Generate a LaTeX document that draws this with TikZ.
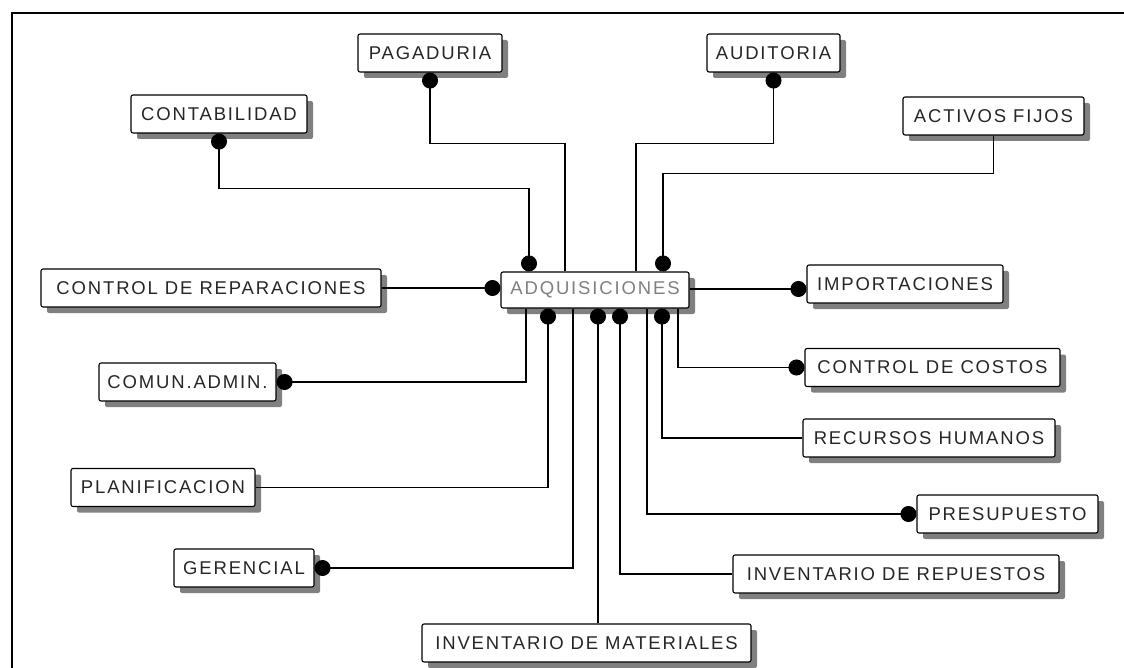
\documentclass[tikz,border=0pt]{standalone}
\usepackage{fontspec}
\newfontfamily\boxfont{Liberation Sans}[LetterSpace=10]
\usetikzlibrary{shadows,arrows.meta,calc}
\begin{document}
\begin{tikzpicture}[x=1pt,y=-1pt,
  ent/.style={draw=black, line width=1.1pt, fill=white, rounded corners=2pt,
    minimum height=38pt, inner sep=0pt,
    font=\boxfont\fontsize{18.5}{21}\selectfont, text=black!85,
    drop shadow={shadow xshift=6pt, shadow yshift=-6pt, fill=black!50, opacity=1}},
  conn/.style={line width=1.2pt},
  dotstart/.style={conn, arrows={Circle[length=16pt]}-},
  dotend/.style={conn, arrows=-{Circle[length=16pt]}},
  dotboth/.style={conn, arrows={Circle[length=16pt]}-{Circle[length=16pt]}}]
\useasboundingbox (0,0) rectangle (1124,668);
\draw[line width=1.2pt] (12,668) -- (12,13) -- (1124,13);

\node[ent, minimum width=176pt] (contab) at (219,114) {CONTABILIDAD};
\node[ent, minimum width=144pt] (pagad) at (430,53) {PAGADURIA};
\node[ent, minimum width=133pt] (audit) at (773.5,53) {AUDITORIA};
\node[ent, minimum width=181pt] (activos) at (993.5,116) {ACTIVOS FIJOS};
\node[ent, minimum width=188pt, minimum height=36pt, text=black!50] (adq) at (595,290) {ADQUISICIONES};
\node[ent, minimum width=340pt] (ctrlrep) at (211,288) {CONTROL DE REPARACIONES};
\node[ent, minimum width=196pt] (import) at (905,284) {IMPORTACIONES};
\node[ent, minimum width=177pt] (comun) at (187.5,382) {COMUN.ADMIN.};
\node[ent, minimum width=255pt] (ccostos) at (932.5,367.5) {CONTROL DE COSTOS};
\node[ent, minimum width=252pt] (rrhh) at (929,438) {RECURSOS HUMANOS};
\node[ent, minimum width=184pt] (planif) at (163,487.5) {PLANIFICACION};
\node[ent, minimum width=181pt] (presup) at (1007.5,514) {PRESUPUESTO};
\node[ent, minimum width=140pt] (geren) at (244,568) {GERENCIAL};
\node[ent, minimum width=326pt] (invrep) at (896,574) {INVENTARIO DE REPUESTOS};
\node[ent, minimum width=329pt] (invmat) at (586.5,643) {INVENTARIO DE MATERIALES};

% top connectors
\draw[dotboth] (contab.south) -- ++(0,55) -| ([xshift=-66pt]adq.north);
\draw[dotstart] (pagad.south) -- ++(0,71) -| ([xshift=-30pt]adq.north);
\draw[dotstart] (audit.south) -- ++(0,71) -| ([xshift=41pt]adq.north);
\draw[dotend] (activos.south) -- ++(0,38) -| ([xshift=68pt]adq.north);
% side connectors
\draw[dotend] (ctrlrep.east) -- (ctrlrep.east -| adq.west);
\draw[dotend] ($(adq.east)+(0,-1)$) coordinate (ie) -- (ie -| import.west);
% bottom connectors
\draw[dotstart] (comun.east) -| ([xshift=-69pt]adq.south);
\draw[dotstart] ([xshift=-47pt]adq.south) |- (planif.east);
\draw[dotstart] (geren.east) -| ([xshift=-22pt]adq.south);
\coordinate (mtop) at ($(adq.south)+(3,0)$);
\draw[dotstart] (mtop) -- (mtop |- invmat.north);
\draw[dotstart] ([xshift=25pt]adq.south) |- (invrep.west);
\draw[dotend] ([xshift=52pt]adq.south) |- (presup.west);
\draw[dotstart] ([xshift=67pt]adq.south) |- (rrhh.west);
\draw[dotend] ([xshift=83pt]adq.south) |- (ccostos.west);
\end{tikzpicture}
\end{document}
